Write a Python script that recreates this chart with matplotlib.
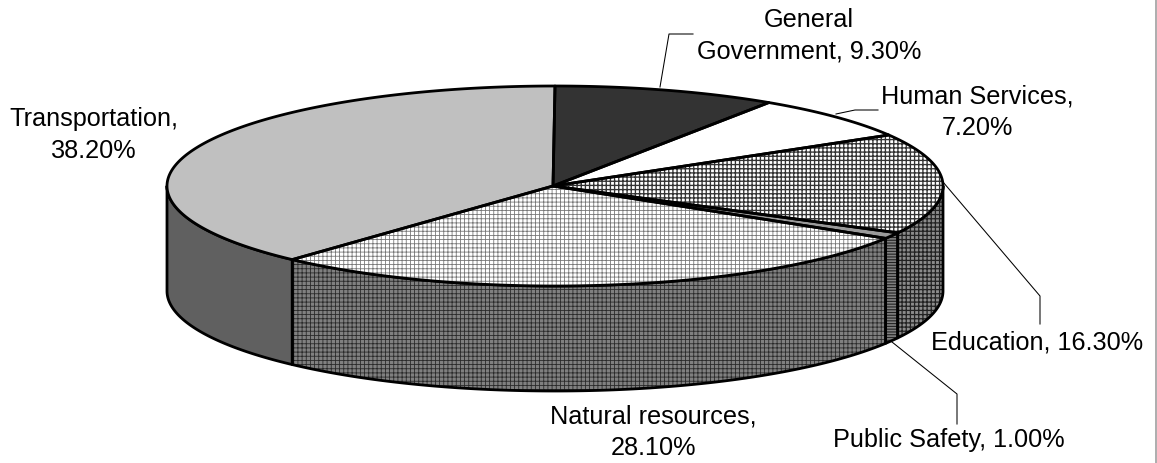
import numpy as np
import matplotlib
matplotlib.use("Agg")
import matplotlib.pyplot as plt
from matplotlib.patches import Polygon

categories = ["General\nGovernment, 9.30%", "Human Services,\n7.20%", "Education, 16.30%",
              "Public Safety, 1.00%", "Natural resources,\n28.10%", "Transportation,\n38.20%"]
values = [9.3, 7.2, 16.3, 1.0, 28.1, 38.2]

top_face = [("#333333", None, None, 0), ("#ffffff", None, None, 0),
            ("#ffffff", "++++", "#333333", 0.95), ("#9a9a9a", None, None, 0),
            ("#ffffff", "++++", "#777777", 0.6), ("#c0c0c0", None, None, 0)]
side_face = [None, None, ("#8c8c8c", "++++", "#222222", 0.9), ("#808080", "------", "#222222", 0.8),
             ("#808080", "++++", "#2a2a2a", 0.6), ("#606060", None, None, 0)]

CX, CY, RX, RY, DEPTH = 555.0, 187.0, 388.0, 100.0, 105.0
EDGE_LW = 2.0

plt.rcParams['font.family'] = ['Liberation Sans', 'DejaVu Sans']
fig = plt.figure(figsize=(11.57, 4.64), dpi=100, facecolor="white")
ax = fig.add_axes([0, 0, 1, 1])
ax.set_xlim(0, 1157)
ax.set_ylim(464, 0)
ax.axis("off")


def rim(a0, a1, dy=0.0):
    t = np.radians(np.linspace(a0, a1, max(3, int(abs(a1 - a0) * 2))))
    return np.column_stack([CX + RX * np.sin(t), CY + dy - RY * np.cos(t)])


def face(pts, style, z):
    fc, hatch, hcolor, hlw = style
    p = Polygon(pts, closed=True, facecolor=fc, edgecolor=hcolor if hatch else "none",
                hatch=hatch, linewidth=0, zorder=z)
    if hatch and hasattr(p, "set_hatch_linewidth"):
        p.set_hatch_linewidth(hlw)
    ax.add_patch(p)
    ax.add_patch(Polygon(pts, closed=True, fill=False, edgecolor="black",
                         linewidth=EDGE_LW, joinstyle="round", zorder=z + 0.5))


edges = np.concatenate([[0], np.cumsum(values)]) / np.sum(values) * 360.0
for i in range(len(values)):
    a0, a1 = edges[i], edges[i + 1]
    lo, hi = max(a0, 90.0), min(a1, 270.0)
    if lo < hi and side_face[i] is not None:
        face(np.vstack([rim(lo, hi), rim(hi, lo, DEPTH)]), side_face[i], 2)
for i in range(len(values)):
    a0, a1 = edges[i], edges[i + 1]
    face(np.vstack([[[CX - 2, CY]], rim(a0, a1)]), top_face[i], 3)

leaders = [([660, 669, 693], [88, 35, 35]),
           ([836, 855, 878], [115, 111, 111]),
           ([943, 1040, 1040], [183, 297, 325]),
           ([892, 957, 957], [343, 395, 425])]
for xs, ys in leaders:
    ax.plot(xs, ys, color="black", lw=0.75, zorder=1)

label_pos = [(809, 36), (977.5, 112), (1037, 343), (949, 440), (653.5, 432), (94, 135)]
for text, (x, y) in zip(categories, label_pos):
    ax.text(x, y, text, ha="center", va="center", fontsize=18.2, color="black",
            linespacing=1.42, zorder=6)

ax.plot([1156, 1156], [0, 464], color="#a0a0a0", lw=1.2, zorder=7)

fig.savefig("out.png", dpi=100)
